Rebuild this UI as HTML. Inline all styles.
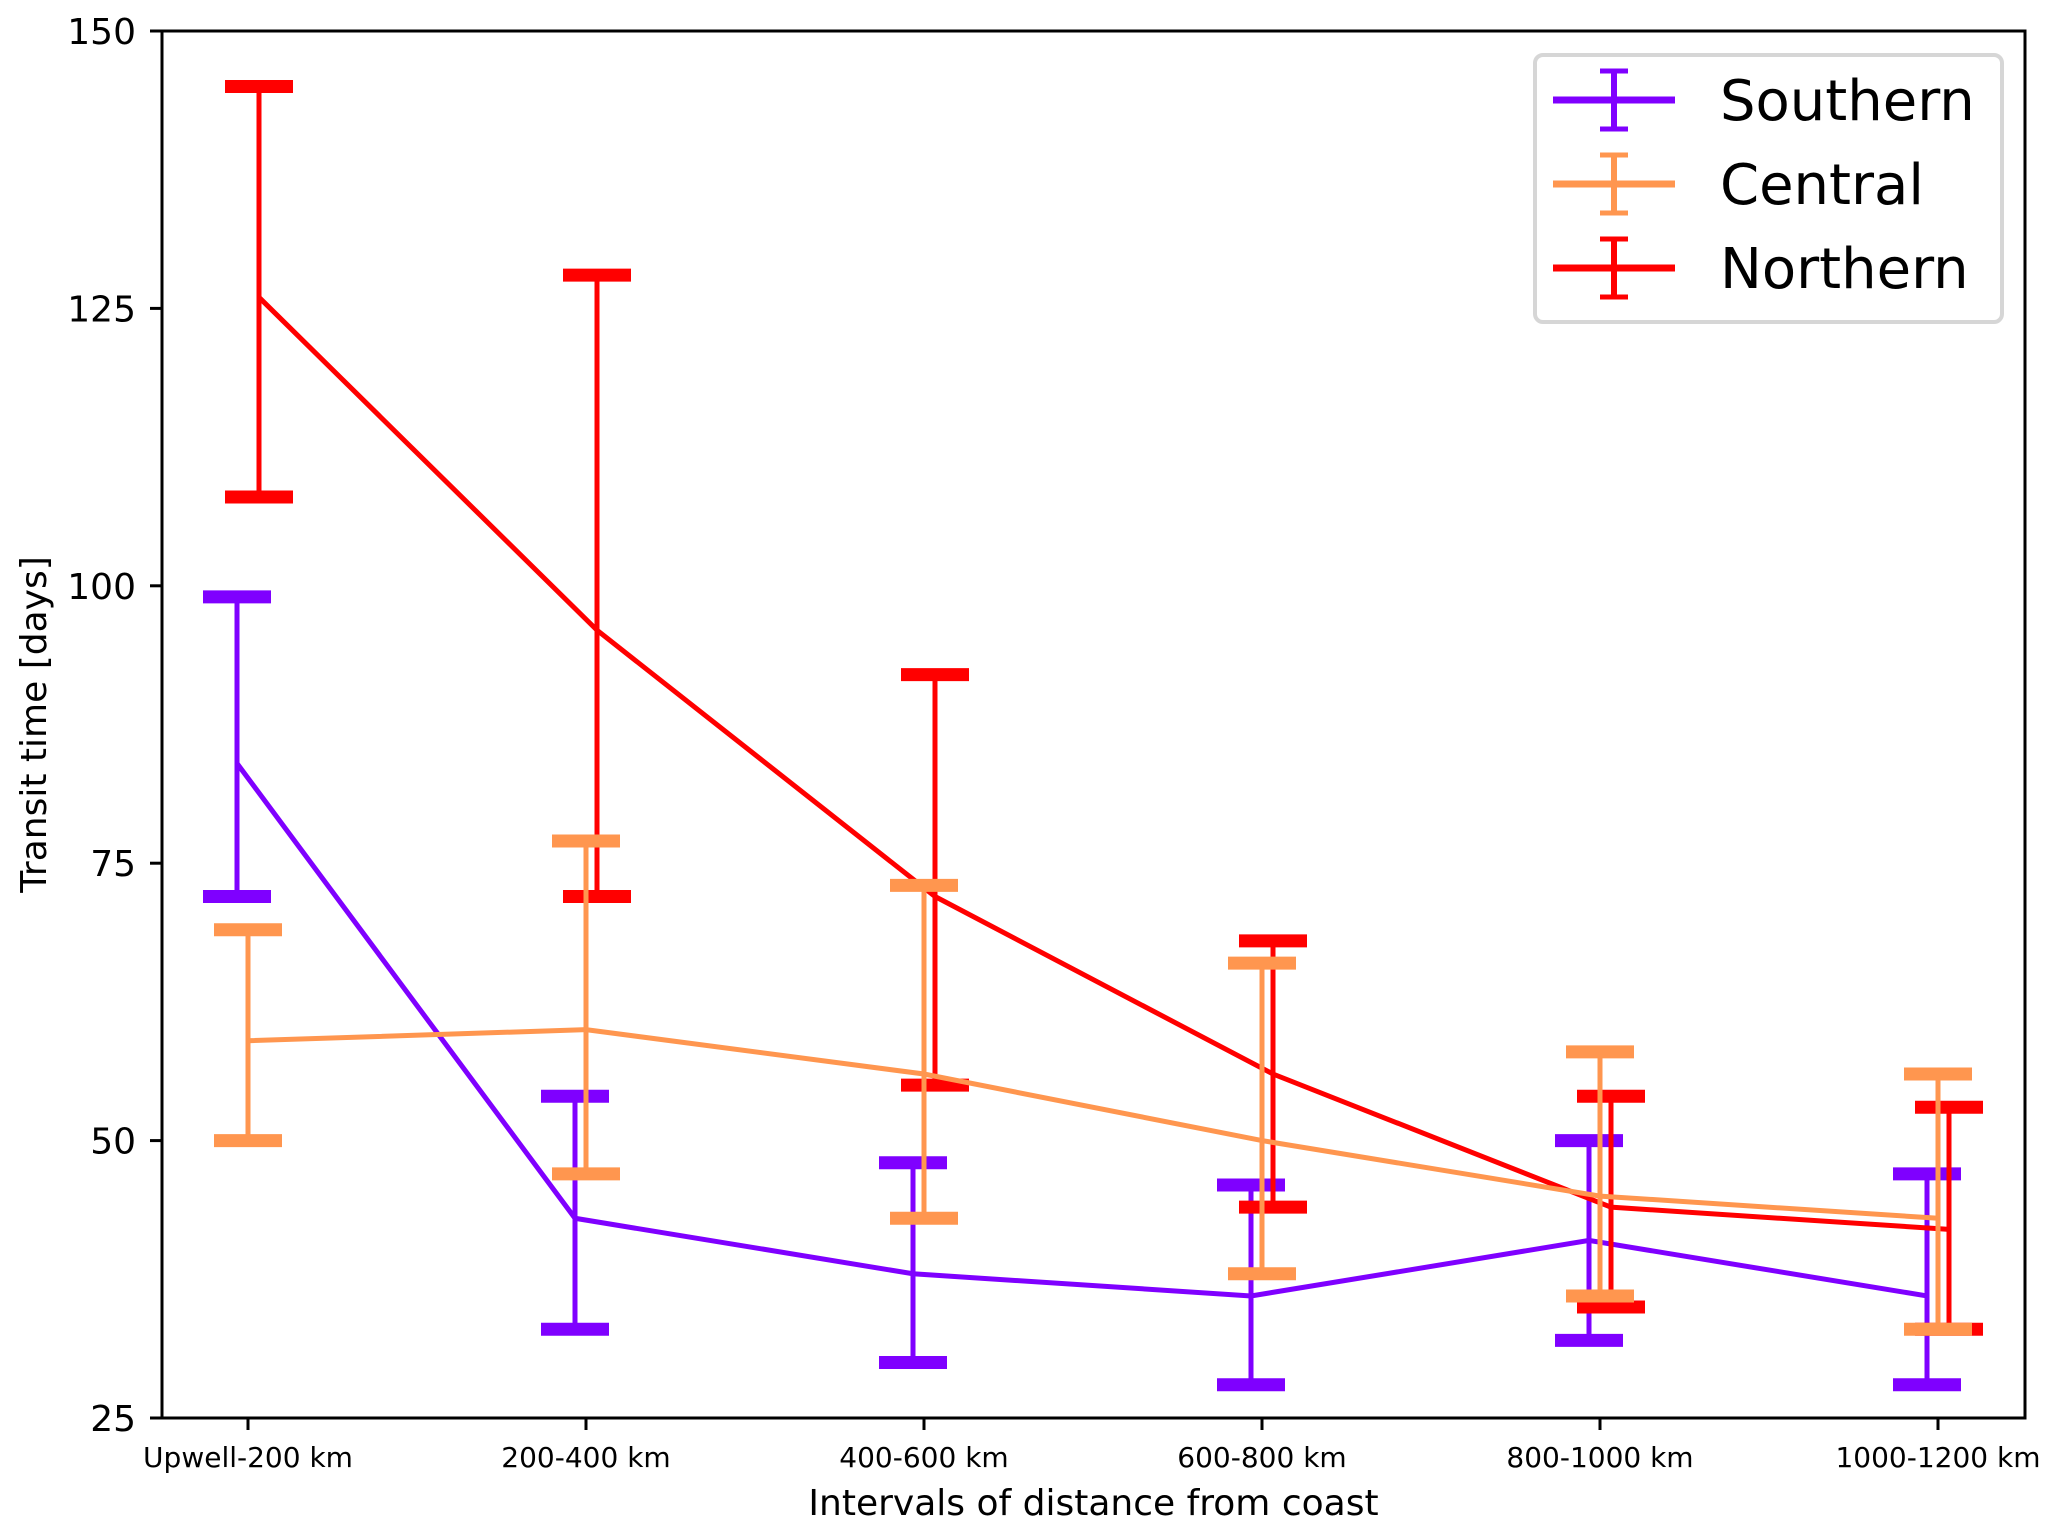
<!DOCTYPE html>
<html><head><meta charset="utf-8"><style>
html,body{margin:0;padding:0;background:#fff}
svg{display:block}
text{font-family:"DejaVu Sans","Liberation Sans",sans-serif;fill:#000}
</style></head><body>
<svg id="chart" width="2067" height="1533" viewBox="0 0 2067 1533" xmlns="http://www.w3.org/2000/svg"></svg>
<script>
const categories = ["Upwell-200 km","200-400 km","400-600 km","600-800 km","800-1000 km","1000-1200 km"];
const yTicks = [25,50,75,100,125,150];
const seriesNames = ["Southern","Central","Northern"];
const seriesColors = ["#7f00ff","#ff964f","#ff0000"];
const southernMean = [84,43,38,36,41,36];
const southernLow  = [72,33,30,28,32,28];
const southernHigh = [99,54,48,46,50,47];
const centralMean = [59,60,56,50,45,43];
const centralLow  = [50,47,43,38,36,33];
const centralHigh = [69,77,73,66,58,56];
const northernMean = [126,96,72,56,44,42];
const northernLow  = [108,72,55,44,35,33];
const northernHigh = [145,128,92,68,54,53];

const NS="http://www.w3.org/2000/svg";
const svg=document.getElementById('chart');
const L=162,R=2025,T=31,B=1418;
const yMin=25,yMax=150;
const xStart=248,xStep=338;
function xPos(i){return xStart+i*xStep;}
function yPos(v){return B-(v-yMin)/(yMax-yMin)*(B-T);}
function mk(tag,attrs,parent){const e=document.createElementNS(NS,tag);for(const k in attrs)e.setAttribute(k,attrs[k]);(parent||svg).appendChild(e);return e;}

const plot=mk('g',{});



const series=[
 {idx:0,mean:southernMean,low:southernLow,high:southernHigh,off:-11},
 {idx:2,mean:northernMean,low:northernLow,high:northernHigh,off:11},
 {idx:1,mean:centralMean,low:centralLow,high:centralHigh,off:0}
];
series.forEach((s)=>{
 const si=s.idx;
 const g=mk('g',{},plot);
 
 
 const c=seriesColors[si];
 s.mean.forEach((m,i)=>{
  const x=xPos(i)+s.off;
  const eb=mk('g',{},g);
  
  
  mk('line',{x1:x,x2:x,y1:yPos(s.low[i]),y2:yPos(s.high[i]),stroke:c,'stroke-width':5},eb);
  mk('line',{x1:x-34,x2:x+34,y1:yPos(s.low[i]),y2:yPos(s.low[i]),stroke:c,'stroke-width':13},eb);
  mk('line',{x1:x-34,x2:x+34,y1:yPos(s.high[i]),y2:yPos(s.high[i]),stroke:c,'stroke-width':13},eb);
 });
 const pts=s.mean.map((m,i)=>(xPos(i)+s.off)+','+yPos(m)).join(' ');
 const pl=mk('polyline',{points:pts,fill:'none',stroke:c,'stroke-width':5,'stroke-linejoin':'miter'},g);
 
 
});

const frame=mk('rect',{x:L,y:T,width:R-L,height:B-T,fill:'none',stroke:'#000','stroke-width':3});



yTicks.forEach(v=>{
 const y=yPos(v);
 mk('line',{x1:L-12,x2:L,y1:y,y2:y,stroke:'#000','stroke-width':3});
 const t=mk('text',{x:136,y:y+13,'text-anchor':'end','font-size':36});
 t.textContent=v;
 
 
});
categories.forEach((c,i)=>{
 const x=xPos(i);
 mk('line',{x1:x,x2:x,y1:B,y2:B+12,stroke:'#000','stroke-width':3});
 const t=mk('text',{x:x,y:1467,'text-anchor':'middle','font-size':28});
 t.textContent=c;
 
 
});
const xl=mk('text',{x:(L+R)/2,y:1515,'text-anchor':'middle','font-size':36});
xl.textContent='Intervals of distance from coast';


const yl=mk('text',{x:0,y:0,'text-anchor':'middle','font-size':36,transform:'translate(46,'+((T+B)/2)+') rotate(-90)'});
yl.textContent='Transit time [days]';



const lg=mk('g',{});


mk('rect',{x:1535,y:55,width:467,height:267,rx:8,fill:'#fff',stroke:'#d6d6d6','stroke-width':4},lg);
const legY=[100,184,268];
seriesNames.forEach((n,i)=>{
 const e=mk('g',{},lg);
 
 
 const c=seriesColors[i],y=legY[i];
 mk('line',{x1:1553,x2:1675,y1:y,y2:y,stroke:c,'stroke-width':7},e);
 mk('line',{x1:1614,x2:1614,y1:y-29,y2:y+29,stroke:c,'stroke-width':6},e);
 mk('line',{x1:1600,x2:1628,y1:y-29,y2:y-29,stroke:c,'stroke-width':5},e);
 mk('line',{x1:1600,x2:1628,y1:y+29,y2:y+29,stroke:c,'stroke-width':5},e);
 const t=mk('text',{x:1720,y:y+20,'font-size':56},e);
 t.textContent=n;
});
</script>
</body></html>
